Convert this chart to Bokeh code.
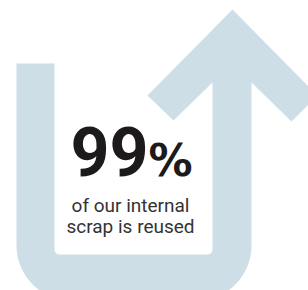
import numpy as np
from bokeh.plotting import figure
from bokeh.core.properties import value
from bokeh.embed import file_html
from bokeh.resources import INLINE

# --- content ---
stat_value = "99"
stat_unit = "%"
caption_lines = ["of our internal", "scrap is reused"]

# --- shape geometry (image pixel coords, y down) ---
arm_top = 63
left_outer, left_inner = 16, 54
right_inner, right_outer = 212, 251
inner_bottom, outer_bottom = 254, 300
outer_r, inner_r = 55, 5
wing_join_y = 82
wing_low = (173, 120)
wing_out = (147, 95)
tip = (232, 9)
wing_out_r = (317, 95)
wing_low_r = (291, 121)

ARROW = "#cddee6"


def arc(cx, cy, r, t0, t1, n=24):
    t = np.linspace(t0, t1, n)
    return list(cx + r * np.cos(t)), list(cy + r * np.sin(t))


xs, ys = [], []


def add(x, y):
    xs.extend(x if isinstance(x, list) else [x])
    ys.extend(y if isinstance(y, list) else [y])


add(left_outer, arm_top)
add(left_inner, arm_top)
ax, ay = arc(left_inner + inner_r, inner_bottom - inner_r, inner_r, np.pi, np.pi / 2)
add(ax, ay)
ax, ay = arc(right_inner - inner_r, inner_bottom - inner_r, inner_r, np.pi / 2, 0)
add(ax, ay)
add(right_inner, wing_join_y)
add(wing_low[0], wing_low[1])
add(wing_out[0], wing_out[1])
add(tip[0], tip[1])
add(wing_out_r[0], wing_out_r[1])
add(wing_low_r[0], wing_low_r[1])
add(right_outer, wing_join_y)
ax, ay = arc(right_outer - outer_r, outer_bottom - outer_r, outer_r, 0, np.pi / 2)
add(ax, ay)
ax, ay = arc(left_outer + outer_r, outer_bottom - outer_r, outer_r, np.pi / 2, np.pi)
add(ax, ay)

W, H = 308, 290
p = figure(width=W, height=H, x_range=(0, W), y_range=(H, 0),
           output_backend="svg", toolbar_location=None, min_border=0,
           outline_line_color=None, background_fill_color="white",
           border_fill_color="white")
p.axis.visible = False
p.grid.visible = False

p.patch(xs, ys, fill_color=ARROW, line_color=None)

p.text(x=[148], y=[151], text=[stat_value], text_font=value("Roboto"),
       text_font_style="bold", text_font_size="68px", text_color="#1c1a1a",
       text_align="right", text_baseline="alphabetic")
p.text(x=[148], y=[160], text=[stat_unit], text_font=value("DejaVu Sans"),
       text_font_style="bold", text_font_size="44px", text_color="#1c1a1a",
       text_align="left", text_baseline="alphabetic")
p.text(x=[130, 130], y=[205, 226], text=caption_lines, text_font=value("Roboto"),
       text_font_size="19px", text_color="#333333",
       text_align="center", text_baseline="alphabetic")

open("out.html", "w").write(file_html(p, INLINE))
